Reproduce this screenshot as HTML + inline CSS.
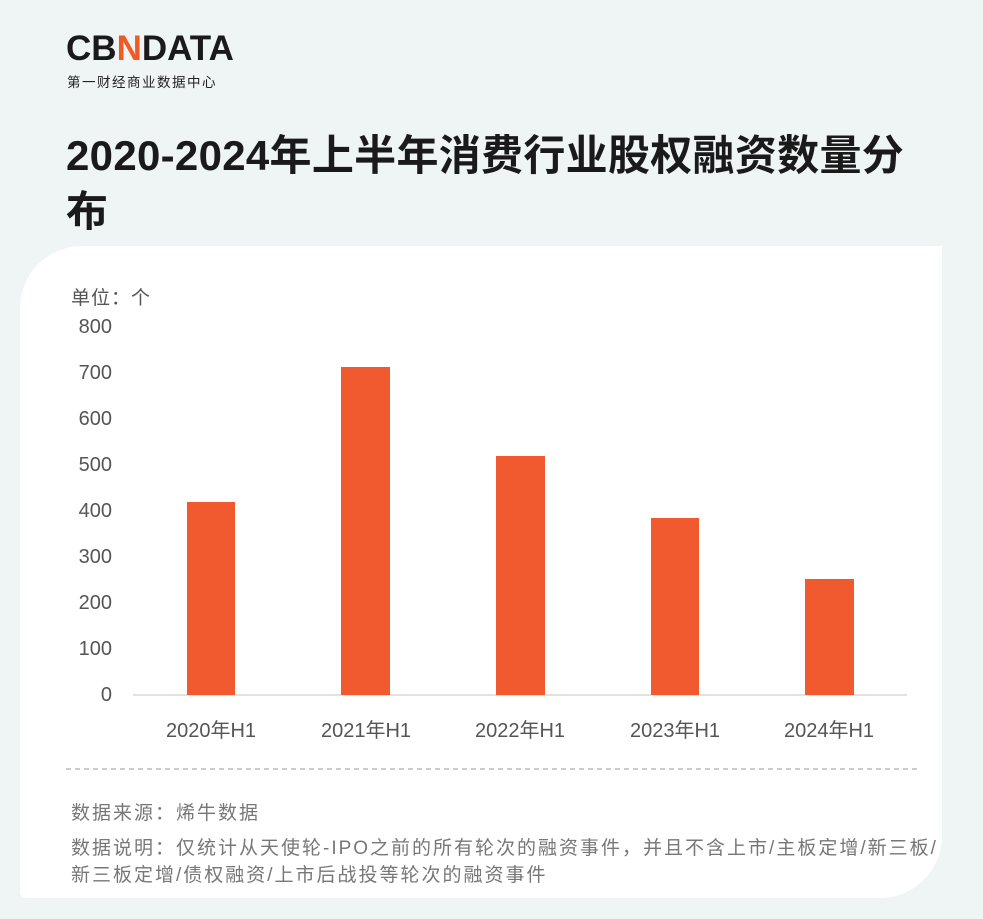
<!DOCTYPE html>
<html><head><meta charset="utf-8"><style>
body{margin:0;width:983px;height:919px;background:#eff4f5;position:relative;overflow:hidden;font-family:"Liberation Sans","Noto Sans CJK SC",sans-serif;}
.card{position:absolute;left:20px;top:246px;width:922px;height:652px;background:#fff;border-radius:62px 0 62px 6px;}
.t{position:absolute;white-space:nowrap;}
</style></head><body>
<div class="t" style="left:66px;top:29px;font-size:35px;font-weight:bold;letter-spacing:0px;color:#1a1a1a;font-family:'Liberation Sans',sans-serif">CB<span style="color:#f05a28">N</span>DATA</div>
<div class="t" style="left:67px;top:71px;font-size:13.5px;color:#222;letter-spacing:1.5px">第一财经商业数据中心</div>
<div class="t" style="left:66px;top:128px;font-size:42px;font-weight:bold;color:#1a1a1a;line-height:56px;letter-spacing:0.3px">2020-2024年上半年消费行业股权融资数量分<br>布</div>
<div class="card"></div>
<div class="t" style="left:71px;top:283px;font-size:19px;color:#555;letter-spacing:1px">单位：个</div>
<svg width="983" height="919" style="position:absolute;left:0;top:0" font-family="Liberation Sans, Noto Sans CJK SC, sans-serif">
<g font-size="20" fill="#555" text-anchor="end">
<text x="112" y="333">800</text><text x="112" y="379">700</text><text x="112" y="425">600</text><text x="112" y="471">500</text><text x="112" y="517">400</text><text x="112" y="563">300</text><text x="112" y="609">200</text><text x="112" y="655">100</text><text x="112" y="701">0</text>
</g>
<line x1="133" y1="695" x2="907" y2="695" stroke="#d8d8d8" stroke-width="1.5"/>
<g fill="#f05a2e">
<rect x="187" y="502" width="48" height="193"/>
<rect x="341" y="367" width="49" height="328"/>
<rect x="496" y="456" width="49" height="239"/>
<rect x="651" y="518" width="48" height="177"/>
<rect x="805" y="579" width="49" height="116"/>
</g>
<g font-size="20" fill="#555" text-anchor="middle">
<text x="211" y="737">2020年H1</text><text x="366" y="737">2021年H1</text><text x="520" y="737">2022年H1</text><text x="675" y="737">2023年H1</text><text x="829" y="737">2024年H1</text>
</g>
<line x1="66" y1="769" x2="918" y2="769" stroke="#999" stroke-width="1" stroke-dasharray="5,4"/>
</svg>
<div class="t" style="left:71px;top:798px;font-size:19px;color:#777;letter-spacing:2px">数据来源：烯牛数据</div>
<div class="t" style="left:71px;top:835px;font-size:19px;color:#777;line-height:27px;letter-spacing:2px">数据说明：仅统计从天使轮-IPO之前的所有轮次的融资事件，并且不含上市/主板定增/新三板/<br>新三板定增/债权融资/上市后战投等轮次的融资事件</div>
</body></html>
